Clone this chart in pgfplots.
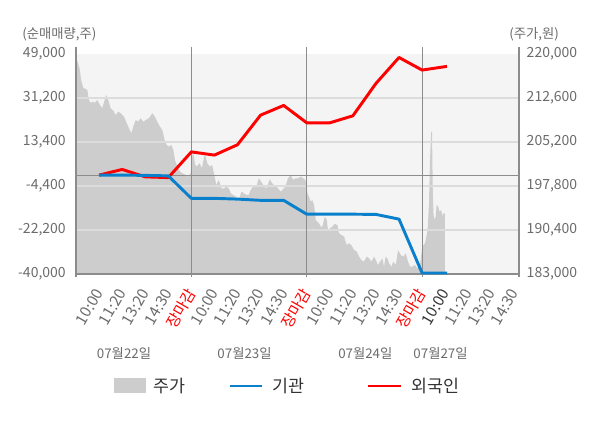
\documentclass[border=0pt]{standalone}
\usepackage{fontspec}
\setmainfont{Noto Sans CJK KR}
\usepackage{pgfplots}
\pgfplotsset{compat=1.18}
\usepackage{pgfplotstable}
\definecolor{bgc}{HTML}{F4F4F4}
\definecolor{areac}{HTML}{CDCDCD}
\definecolor{bluec}{HTML}{0A80CC}
\definecolor{redc}{HTML}{FF0000}
\definecolor{gridc}{HTML}{DCDCDC}
\definecolor{axc}{HTML}{8C8C8C}
\definecolor{txtc}{HTML}{6B6B6B}
\definecolor{darkc}{HTML}{333333}

\pgfplotstableread{
s p
0 219300
0.09 218490
0.17 217310
0.22 215630
0.32 214280
0.42 214110
0.49 213950
0.56 212260
0.64 211760
0.71 211980
0.81 211810
0.92 212260
1.04 211420
1.14 210870
1.24 212260
1.31 213100
1.40 212260
1.50 210870
1.62 210460
1.72 209740
1.83 210300
1.94 210030
2.08 209460
2.20 208350
2.30 207500
2.40 206660
2.48 207770
2.59 208900
2.69 208610
2.80 209190
2.92 208610
3.02 208900
3.16 209190
3.31 210030
3.42 209460
3.52 208610
3.64 207770
3.74 207220
3.84 205540
3.93 204700
4.03 204410
4.13 204700
4.22 203850
4.29 202170
4.39 201050
4.51 200210
4.61 199940
4.76 199650
4.85 199360
4.97 199940
5.03 202170
5.07 203850
5.15 201620
5.21 201050
5.36 201620
5.46 200780
5.55 202730
5.60 203010
5.69 201620
5.80 201050
5.90 201330
5.98 199940
6.08 197970
6.19 198810
6.30 197410
6.42 197410
6.52 197680
6.62 197410
6.71 196570
6.81 196290
6.95 196000
7.02 195160
7.10 196000
7.17 196840
7.28 196570
7.38 196290
7.49 196290
7.57 197130
7.67 197680
7.82 197680
7.92 199100
8.03 198520
8.15 197680
8.25 197410
8.40 198930
8.50 198250
8.58 197970
8.68 197680
8.79 197250
8.87 196840
8.97 197250
9.07 197680
9.19 199100
9.31 199650
9.41 198810
9.51 199100
9.62 199100
9.74 199360
9.84 199100
9.94 198810
9.99 197970
10.03 196570
10.10 196000
10.17 195160
10.24 195440
10.32 194600
10.39 192080
10.46 191800
10.53 191530
10.61 190960
10.68 190960
10.78 192640
10.87 192080
10.92 190400
11.01 190690
11.11 190960
11.21 191410
11.33 191240
11.40 189850
11.50 189560
11.62 189270
11.73 187880
11.83 188160
11.93 187880
12.05 187040
12.17 186750
12.27 185910
12.37 185360
12.48 185070
12.60 185910
12.70 185640
12.80 185070
12.92 185910
12.99 185360
13.09 184520
13.18 185070
13.28 185640
13.35 184230
13.42 185910
13.49 185640
13.57 184800
13.67 184230
13.75 185070
13.86 184520
13.96 187040
14.07 186200
14.19 185910
14.29 186480
14.39 185070
14.48 184230
14.58 184230
14.68 184520
14.79 183960
14.91 184520
15.01 187590
15.13 188210
15.24 190400
15.30 194940
15.34 201670
15.39 206930
15.43 206930
15.46 197680
15.49 193260
15.53 192080
15.59 192640
15.63 194600
15.70 194320
15.75 193480
15.82 193760
15.90 192640
15.92 193210
15.99 193210
}\pricetable

\pgfplotstableread{
s v
1 0
2 2300
3 -700
4 -1000
5 9400
6 8100
7 12300
8 24270
9 28190
10 21160
11 21160
12 24000
13 37100
14 47600
15 42500
16.08 44000
}\foreigntable

\pgfplotstableread{
s v
1 0
2 0
3 -100
4 -300
5 -9400
6 -9400
7 -9700
8 -10200
9 -10200
10 -15800
11 -15800
12 -15800
13 -15900
14 -17800
15 -39600
16.08 -39600
}\insttable

\begin{document}
\begin{tikzpicture}[x=1pt,y=1pt]
\useasboundingbox (0,0) rectangle (450,321);
% price axis (right)
\begin{axis}[
  at={(57pt,115.5pt)}, anchor=south west,
  width=332.25pt, height=165pt, scale only axis,
  xmin=0, xmax=19.2, ymin=183000, ymax=220000,
  axis x line=none, axis y line*=right,
  axis line style={draw=axc, line width=0.8pt},
  axis background/.style={fill=bgc},
  ytick={183000,190400,197800,205200,212600,220000},
  scaled y ticks=false,
  major tick length=0pt,
  yticklabel style={font=\fontsize{10.5}{12}\selectfont, text=txtc, inner sep=0pt, anchor=west, xshift=5.6pt,
    /pgf/number format/.cd, fixed, 1000 sep={,}, assume math mode=true},
]
\addplot[fill=areac, draw=none] table[x=s,y=p] {\pricetable} \closedcycle;
\end{axis}
% net trading axis (left)
\begin{axis}[
  at={(57pt,115.5pt)}, anchor=south west,
  width=332.25pt, height=165pt, scale only axis,
  xmin=0, xmax=19.2, ymin=-40000, ymax=49000,
  axis x line*=bottom, axis y line*=left,
  axis line style={draw=axc, line width=0.8pt},
  clip=false,
  ytick={-40000,-22200,-4400,13400,31200,49000},
  scaled y ticks=false,
  major tick length=0pt,
  yticklabel style={font=\fontsize{10.5}{12}\selectfont, text=txtc, inner sep=0pt, anchor=east, xshift=-7.5pt,
    /pgf/number format/.cd, fixed, 1000 sep={,}, assume math mode=true},
  xtick={1,...,19},
  xticklabels={10:00,11:20,13:20,14:30,\textcolor{redc}{장마감},10:00,11:20,13:20,14:30,\textcolor{redc}{장마감},10:00,11:20,13:20,14:30,\textcolor{redc}{장마감},\textcolor{darkc}{10:00},11:20,13:20,14:30},
  xticklabel style={font=\fontsize{11.5}{13}\selectfont, text=txtc, inner sep=0pt, anchor=east, yshift=-12pt, rotate=60},
]
\draw[draw=gridc, line width=0.8pt] (axis cs:0,31200) -- (axis cs:19.2,31200);
\draw[draw=gridc, line width=0.8pt] (axis cs:0,13400) -- (axis cs:19.2,13400);
\draw[draw=gridc, line width=0.8pt] (axis cs:0,-4400) -- (axis cs:19.2,-4400);
\draw[draw=gridc, line width=0.8pt] (axis cs:0,-22200) -- (axis cs:19.2,-22200);
\draw[draw=axc, line width=0.8pt] ([yshift=-2.5pt]axis cs:0,-40000) -- ([yshift=5.5pt]axis cs:0,49000);
\draw[draw=axc, line width=0.8pt] ([yshift=-2.5pt]axis cs:5,-40000) -- ([yshift=5.5pt]axis cs:5,49000);
\draw[draw=axc, line width=0.8pt] ([yshift=-2.5pt]axis cs:10,-40000) -- ([yshift=5.5pt]axis cs:10,49000);
\draw[draw=axc, line width=0.8pt] ([yshift=-2.5pt]axis cs:15,-40000) -- ([yshift=5.5pt]axis cs:15,49000);
\draw[draw=axc, line width=0.8pt] ([yshift=-2.5pt]axis cs:19.2,-40000) -- ([yshift=5.5pt]axis cs:19.2,49000);
\draw[draw=axc, line width=0.8pt] (axis cs:0,0) -- (axis cs:19.2,0);
\addplot[draw=redc, line width=2.2pt, line join=round] table[x=s,y=v] {\foreigntable};
\addplot[draw=bluec, line width=2.2pt, line join=round] table[x=s,y=v] {\insttable};
\end{axis}
% axis titles
\node[anchor=west, inner sep=0pt, text=txtc, font=\fontsize{10}{12}\selectfont] at (16.5,295.5) {(순매매량,주)};
\node[anchor=west, inner sep=0pt, text=txtc, font=\fontsize{10}{12}\selectfont] at (381.75,295.5) {(주가,원)};
% date labels
\node[inner sep=0pt, text=txtc, font=\fontsize{10}{12}\selectfont] at (93,56.25) {07월22일};
\node[inner sep=0pt, text=txtc, font=\fontsize{10}{12}\selectfont] at (183.4,56.25) {07월23일};
\node[inner sep=0pt, text=txtc, font=\fontsize{10}{12}\selectfont] at (274,56.25) {07월24일};
\node[inner sep=0pt, text=txtc, font=\fontsize{10}{12}\selectfont] at (330.4,56.25) {07월27일};
% legend
\fill[areac] (85.5,26.25) rectangle (109.5,37.5);
\node[anchor=west, inner sep=0pt, text=darkc, font=\fontsize{13}{15}\selectfont] at (115,31.5) {주가};
\draw[bluec, line width=2.2pt] (172.5,31.5) -- (196.5,31.5);
\node[anchor=west, inner sep=0pt, text=darkc, font=\fontsize{13}{15}\selectfont] at (204,31.5) {기관};
\draw[redc, line width=2.2pt] (276,31.5) -- (300.75,31.5);
\node[anchor=west, inner sep=0pt, text=darkc, font=\fontsize{13}{15}\selectfont] at (308.25,31.5) {외국인};
\end{tikzpicture}
\end{document}
